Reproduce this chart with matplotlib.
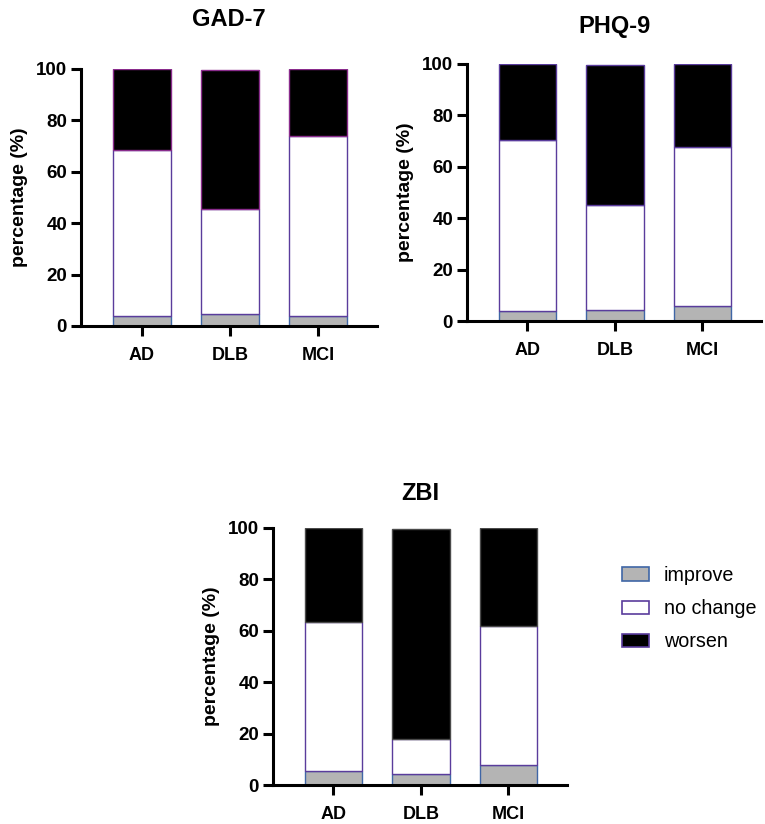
import matplotlib
matplotlib.use("Agg")
import matplotlib.pyplot as plt
from matplotlib.patches import Patch

plt.rcParams['font.family'] = ['Liberation Sans', 'DejaVu Sans']

groups = ["AD", "DLB", "MCI"]
titles = ["GAD-7", "PHQ-9", "ZBI"]
series = ["improve", "no change", "worsen"]

# percentages per panel: improve, no change, worsen
gad_improve = [4.0, 4.5, 4.0]
gad_nochange = [64.5, 41.0, 70.0]
gad_worsen = [31.5, 54.2, 26.0]

phq_improve = [3.7, 4.3, 5.8]
phq_nochange = [66.8, 41.0, 62.0]
phq_worsen = [29.5, 54.4, 32.2]

zbi_improve = [5.5, 4.3, 7.8]
zbi_nochange = [58.1, 13.7, 54.0]
zbi_worsen = [36.4, 81.7, 38.2]

yticks = [0, 20, 40, 60, 80, 100]

fill_colors = ["#b4b4b4", "#ffffff", "#000000"]
edge_colors = ["#3f66a6", "#5a3c9c", "#5a3c9c"]
worsen_edges = ["#8a2c8c", "#5a3c9c", "#4a4a4a"]

W, H = 765, 824
fig = plt.figure(figsize=(W / 100, H / 100), dpi=100)

def ax_rect(left, right, top, bottom):
    return [left / W, 1 - bottom / H, (right - left) / W, (bottom - top) / H]

rects = [ax_rect(81, 377, 69, 326), ax_rect(467, 761, 64, 321), ax_rect(273, 567, 528, 785)]
title_pads = [31, 22, 20]
data = [(gad_improve, gad_nochange, gad_worsen),
        (phq_improve, phq_nochange, phq_worsen),
        (zbi_improve, zbi_nochange, zbi_worsen)]

for i, (rect, title, vals) in enumerate(zip(rects, titles, data)):
    ax = fig.add_axes(rect)
    x = list(range(len(groups)))
    bottom = [0.0] * len(groups)
    for j, v in enumerate(vals):
        ec = edge_colors[j] if j < 2 else worsen_edges[i]
        ax.bar(x, v, width=0.655, bottom=bottom, color=fill_colors[j],
               edgecolor=ec, linewidth=1.0, zorder=2)
        bottom = [b + vv for b, vv in zip(bottom, v)]
    ax.set_xlim(-0.69, 2.67)
    ax.set_ylim(0, 100)
    ax.set_yticks(yticks)
    ax.set_xticks(x)
    ax.set_xticklabels(groups, fontsize=13, fontweight='bold')
    ax.set_yticklabels([str(t) for t in yticks], fontsize=13.5, fontweight='bold')
    for s in ['top', 'right']:
        ax.spines[s].set_visible(False)
    for s in ['left', 'bottom']:
        ax.spines[s].set_linewidth(2.2)
    ax.tick_params(axis='both', width=2.2, length=7, direction='out')
    ax.tick_params(axis='y', pad=3)
    ax.tick_params(axis='x', pad=8)
    ax.set_ylabel("percentage (%)", fontsize=14, fontweight='bold', labelpad=6)
    ax.set_title(title, fontsize=17, fontweight='bold', pad=title_pads[i])

handles = [Patch(facecolor=fill_colors[k], edgecolor=edge_colors[k], linewidth=1.2, label=series[k])
           for k in range(3)]
fig.legend(handles=handles, loc='upper left', bbox_to_anchor=(622 / W, 1 - 566 / H),
           frameon=False, fontsize=14.2, handlelength=1.37, handleheight=0.66,
           labelspacing=0.72, handletextpad=0.76, borderpad=0, borderaxespad=0)

fig.savefig("out.png", dpi=100)
